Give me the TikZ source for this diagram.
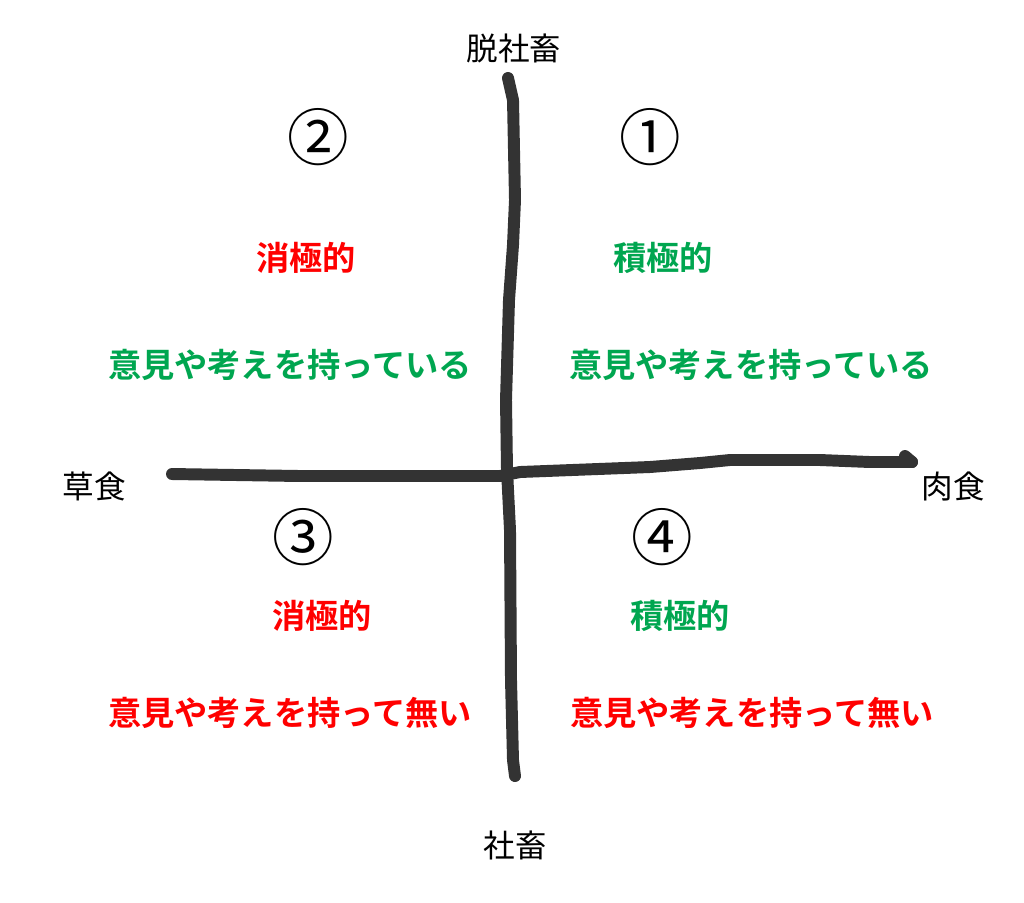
\documentclass[tikz,border=0pt]{standalone}
\usepackage{fontspec}
\newfontfamily\jpfont{Noto Sans CJK JP}
\newfontfamily\jpbold{Noto Sans CJK JP Bold}
\definecolor{axisgray}{HTML}{333333}
\definecolor{posgreen}{HTML}{00A650}
\definecolor{negred}{HTML}{FF0000}

\begin{document}
\begin{tikzpicture}[x=0.01cm, y=-0.01cm,
    axis/.style={axisgray, line width=3.4pt, line cap=round, line join=round},
    pole/.style={font=\jpfont\fontsize{9}{9}\selectfont, inner sep=0pt},
    num/.style={font=\jpfont\fontsize{17.5}{17.5}\selectfont, inner sep=0pt},
    tag/.style={font=\jpbold\fontsize{9.45}{9.45}\selectfont, inner sep=0pt}]
  \useasboundingbox[fill=white] (0,0) rectangle (1024,902);

  % axes, drawn by hand
  \coordinate (top) at (508,78);
  \coordinate (bottom) at (515,776);
  \coordinate (left) at (172,474);
  \coordinate (right) at (912,462);
  \draw[axis] (top) -- (513,100) -- (515,200) -- (513,245) -- (509,300)
    -- (506,400) -- (507,470) -- (510,530) -- (511,680) -- (513,760) -- (bottom);
  \draw[axis] (left) -- (300,476) -- (500,476) -- (520,472) -- (650,467)
    -- (700,463) -- (730,460) -- (820,460) -- (870,462) -- (right);
  \draw[axis] (905,456) -- (right);

  % pole labels
  \node[pole] (up)   at (514,48)  {脱社畜};
  \node[pole] (down) at (515,845) {社畜};
  \node[pole] (herb) at (94,486)  {草食};
  \node[pole] (meat) at (953,486) {肉食};

  % quadrant numbers
  \node[num] (q1) at (650,137) {①};
  \node[num] (q2) at (318,137) {②};
  \node[num] (q3) at (303,537) {③};
  \node[num] (q4) at (662,537) {④};

  % quadrant texts
  \node[tag, posgreen] (q1a) at (663,258) {積極的};
  \node[tag, posgreen] (q1b) at (751,365) {意見や考えを持っている};
  \node[tag, negred]   (q2a) at (306,258) {消極的};
  \node[tag, posgreen] (q2b) at (290,365) {意見や考えを持っている};
  \node[tag, negred]   (q3a) at (322,616) {消極的};
  \node[tag, negred]   (q3b) at (290,713) {意見や考えを持って無い};
  \node[tag, posgreen] (q4a) at (680,616) {積極的};
  \node[tag, negred]   (q4b) at (752,713) {意見や考えを持って無い};
\end{tikzpicture}
\end{document}
